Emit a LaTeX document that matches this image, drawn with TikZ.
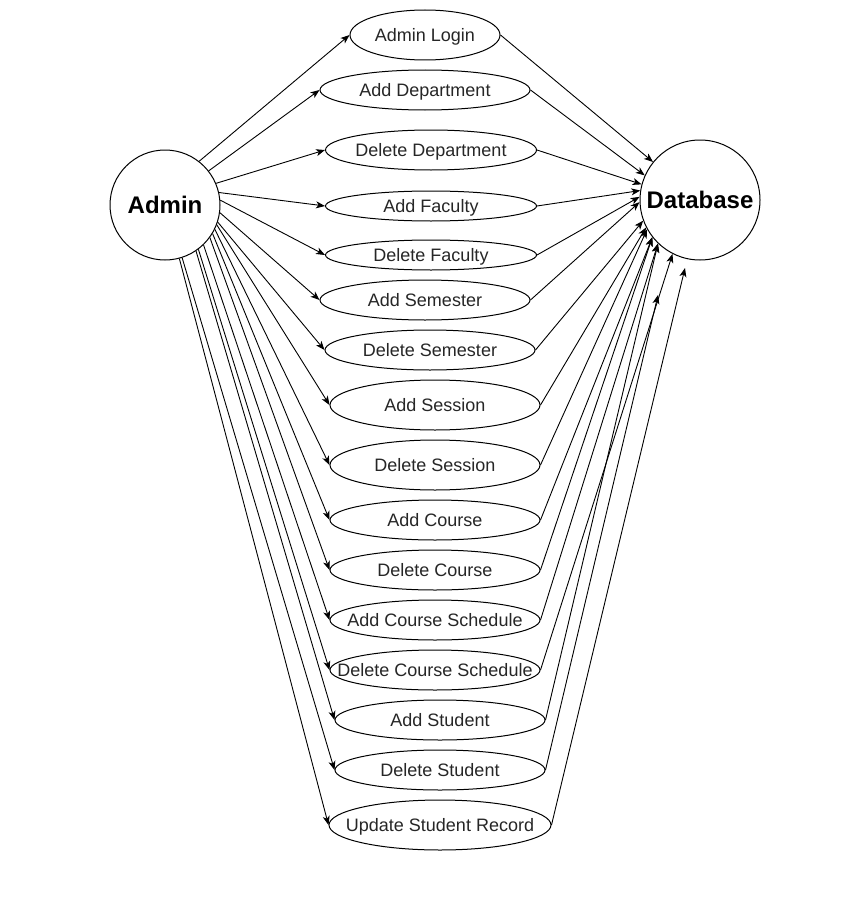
\documentclass[tikz,border=0pt]{standalone}
\usepackage{fontspec}
\setmainfont{Liberation Sans}
\usetikzlibrary{shapes.geometric,arrows.meta}
\begin{document}
\begin{tikzpicture}[x=1pt,y=-1pt,
  uc/.style={draw, ellipse, line width=1pt, inner sep=0pt},
  uctext/.style={font=\fontsize{18}{21}\selectfont, text=black!85, inner sep=0pt,
    text height=13pt, text depth=0pt},
  actor/.style={draw, circle, line width=1pt, inner sep=0pt, minimum size=#1,
    font=\fontsize{24}{28}\selectfont\bfseries},
  link/.style={line width=0.9pt, -{Stealth[length=9pt,width=7pt,inset=2.5pt]}}]
\useasboundingbox (0,0) rectangle (850,907);
\node[actor=110] (admin) at (165,205) {Admin};
\node[actor=120] (db) at (700,200) {Database};
\coordinate (free15) at (658,295);
\coordinate (free16) at (685,268);
\foreach \n/\x/\y/\w/\h/\sa/\t in {
  1/425/35/150/50/52/Admin Login,
  2/425/90/210/40/38/Add Department,
  3/431/150/211/40/23/Delete Department,
  4/431/206/211/30/13/Add Faculty,
  5/431/255/211/30/5/Delete Faculty,
  6/425/300/210/40/-8/Add Semester,
  7/430/350/210/40/-18/Delete Semester,
  8/435/405/210/50/-21/Add Session,
  9/435/465/210/50/-26/Delete Session,
  10/435/520/210/40/-31/Add Course,
  11/435/570/210/40/-36/Delete Course,
  12/435/620/210/40/-46/Add Course Schedule,
  13/435/670/210/40/-53/Delete Course Schedule,
  14/440/720/210/40/-56/Add Student,
  15/440/770/210/40/-72/Delete Student,
  16/440/825/222/50/-75/Update Student Record}{
  \node[uc, minimum width=\w pt, minimum height=\h pt] (e\n) at (\x,\y) {};
  \node[uctext] (t\n) at (e\n) {\t};
  \draw[link] (admin.\sa) -- (e\n.west);
}
\foreach \n/\ea in {1/141,2/156,3/165,4/171,5/177,6/182,7/200,8/207,9/209,10/218,11/218,12/226,13/243,14/226}{
  \draw[link] (e\n.east) -- (db.\ea);
}
\draw[link] (e15.east) -- (free15);
\draw[link] (e16.east) -- (free16);
\end{tikzpicture}
\end{document}
